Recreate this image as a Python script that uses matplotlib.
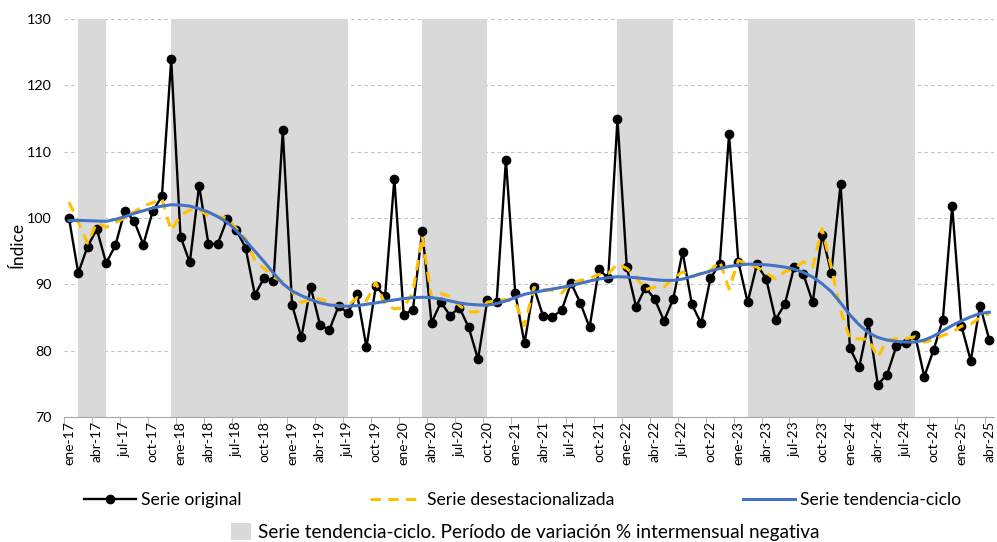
import numpy as np
import matplotlib
matplotlib.use("Agg")
import matplotlib.pyplot as plt
from matplotlib.lines import Line2D
from matplotlib.patches import Patch

plt.rcParams["font.family"] = ["Lato", "DejaVu Sans"]

# ---------------------------------------------------------------------------
# Data (monthly index, ene-17 .. abr-25)
# ---------------------------------------------------------------------------
MESES = ["ene", "feb", "mar", "abr", "may", "jun",
         "jul", "ago", "sep", "oct", "nov", "dic"]
YEARS = list(range(17, 26))

serie_original = [
    100.0, 91.7, 95.7, 98.3, 93.2, 95.9, 101.1, 99.6, 96.0, 101.0, 103.3, 123.9,
    97.2, 93.3, 104.9, 96.1, 96.1, 99.8, 98.2, 95.5, 88.4, 91.0, 90.5, 113.2,
    86.9, 82.0, 89.6, 83.9, 83.1, 86.7, 85.7, 88.5, 80.5, 89.7, 88.2, 105.9,
    85.4, 86.2, 98.1, 84.2, 87.3, 85.3, 86.5, 83.5, 78.7, 87.6, 87.3, 108.8,
    88.7, 81.1, 89.6, 85.2, 85.1, 86.1, 90.2, 87.2, 83.5, 92.3, 90.9, 114.9,
    92.6, 86.6, 89.5, 87.8, 84.5, 87.8, 94.9, 87.0, 84.1, 90.9, 93.1, 112.6,
    93.4, 87.3, 93.0, 90.8, 84.7, 87.0, 92.6, 91.5, 87.3, 97.5, 91.7, 105.2,
    80.4, 77.5, 84.3, 74.9, 76.4, 80.7, 81.1, 82.4, 76.1, 80.1, 84.7, 101.8,
    83.7, 78.5, 86.8, 81.6,
]

serie_desest = [
    102.4, 99.4, 96.2, 99.3, 98.6, 99.3, 100.0, 100.9, 101.8, 102.3, 102.9, 98.1,
    100.4, 101.2, 101.3, 100.3, 100.2, 100.0, 98.4, 96.9, 93.6, 92.4, 91.1, 90.4,
    88.9, 87.3, 87.6, 87.8, 87.3, 86.7, 86.8, 88.0, 87.5, 90.3, 87.0, 86.3,
    86.5, 88.8, 97.3, 88.0, 88.6, 88.2, 86.8, 85.8, 85.9, 87.3, 87.6, 87.7,
    87.3, 83.8, 89.5, 89.2, 89.1, 88.7, 90.1, 90.6, 90.9, 91.5, 91.6, 93.1,
    92.4, 91.1, 89.2, 89.6, 89.6, 90.9, 91.9, 91.1, 91.7, 92.1, 93.5, 89.3,
    93.6, 93.1, 92.6, 91.7, 90.8, 91.9, 92.4, 93.4, 92.6, 98.4, 92.6, 86.1,
    81.8, 81.8, 81.7, 79.0, 81.6, 81.8, 81.8, 82.1, 81.3, 81.6, 82.3, 82.8,
    83.7, 84.0, 85.0, 85.6,
]

serie_tendencia = [
    99.6, 99.65, 99.6, 99.55, 99.5, 99.8, 100.2, 100.7, 101.1, 101.5, 101.8, 102.0,
    101.95, 101.8, 101.4, 100.9, 100.2, 99.4, 98.1, 96.6, 95.0, 93.4, 91.7, 90.1,
    89.0, 88.3, 87.7, 87.2, 86.9, 86.75, 86.7, 86.8, 87.0, 87.2, 87.45, 87.65,
    87.85, 88.0, 88.05, 88.0, 87.8, 87.5, 87.2, 87.0, 86.9, 86.85, 87.1, 87.5,
    88.0, 88.5, 88.8, 89.05, 89.3, 89.55, 89.8, 90.15, 90.5, 90.8, 91.0, 91.15,
    91.1, 91.0, 90.85, 90.7, 90.6, 90.6, 90.8, 91.2, 91.6, 92.0, 92.4, 92.7,
    92.9, 93.05, 93.0, 92.95, 92.8, 92.6, 92.3, 91.8, 91.1, 90.1, 88.9, 87.2,
    85.4, 83.9, 82.7, 82.0, 81.6, 81.4, 81.3, 81.3, 81.6, 82.2, 83.0, 83.8,
    84.5, 85.1, 85.6, 85.8,
]

# periods where the trend-cycle month-on-month change is negative
periodos_negativos = [
    ("feb-17", "may-17"),
    ("dic-17", "jul-19"),
    ("mar-20", "oct-20"),
    ("dic-21", "jun-22"),
    ("feb-23", "ago-24"),
]

etiquetas = [f"{m}-{y}" for y in YEARS for m in MESES][:len(serie_original)]
x = np.arange(len(etiquetas))

# ---------------------------------------------------------------------------
# Plot
# ---------------------------------------------------------------------------
C_BLACK = "#000000"
C_YELLOW = "#FFC000"
C_BLUE = "#4472C4"
C_SHADE = "#D9D9D9"
C_GRID = "#BFBFBF"

fig = plt.figure(figsize=(9.97, 5.42), dpi=100)
ax = fig.add_axes([0.0645, 0.2306, 0.9325, 0.7343])

for ini, fin in periodos_negativos:
    ax.axvspan(etiquetas.index(ini), etiquetas.index(fin),
               color=C_SHADE, lw=0, zorder=1)

ax.plot(x, serie_original, color=C_BLACK, lw=1.7, marker="o", ms=6,
        zorder=3, label="Serie original")
ax.plot(x, serie_desest, color=C_YELLOW, lw=2.2, dashes=(3.4, 2.4),
        zorder=4, label="Serie desestacionalizada")
ax.plot(x, serie_tendencia, color=C_BLUE, lw=2.2, zorder=5,
        label="Serie tendencia-ciclo")

ax.set_xlim(-0.5, len(x) - 0.5)
ax.set_ylim(70, 130)
ax.set_yticks(range(70, 131, 10))
ax.yaxis.grid(True, color=C_GRID, ls=(0, (3, 3)), lw=0.8, zorder=0)
ax.set_axisbelow(True)

ax.set_xticks(x[::3])
ax.set_xticklabels(etiquetas[::3], rotation=90, fontsize=10)
ax.set_xticks(np.arange(-0.5, len(x), 3), minor=True)
ax.tick_params(axis="x", which="major", length=0, pad=3)
ax.tick_params(axis="x", which="minor", length=5, color="#A6A6A6")
ax.tick_params(axis="y", length=0, pad=9, labelsize=10.3)

for side in ("top", "right", "left"):
    ax.spines[side].set_visible(False)
ax.spines["bottom"].set_color("#A6A6A6")

fig.text(0.018, 1 - 245 / 542, "Índice", rotation=90, ha="center",
         va="center", fontsize=12.5)

h = [
    Line2D([], [], color=C_BLACK, lw=1.7, marker="o", ms=6),
    Line2D([], [], color=C_YELLOW, lw=2.2, dashes=(3.4, 2.4)),
    Line2D([], [], color=C_BLUE, lw=2.2),
]
fig.legend(h, ["Serie original", "Serie desestacionalizada",
               "Serie tendencia-ciclo"],
           loc="center left", bbox_to_anchor=(0.075, 1 - 500 / 542),
           ncol=3, frameon=False, fontsize=12.7, handlelength=2.95,
           handletextpad=0.28, columnspacing=7.3, borderpad=0)
fig.legend([Patch(color=C_SHADE, lw=0)],
           ["Serie tendencia-ciclo. Período de variación % intermensual negativa"],
           loc="center left", bbox_to_anchor=(0.2217, 1 - 532 / 542),
           frameon=False, fontsize=13.7, handlelength=1.1, handleheight=1.0,
           handletextpad=0.32, borderpad=0)

fig.savefig("out.png", dpi=100)
